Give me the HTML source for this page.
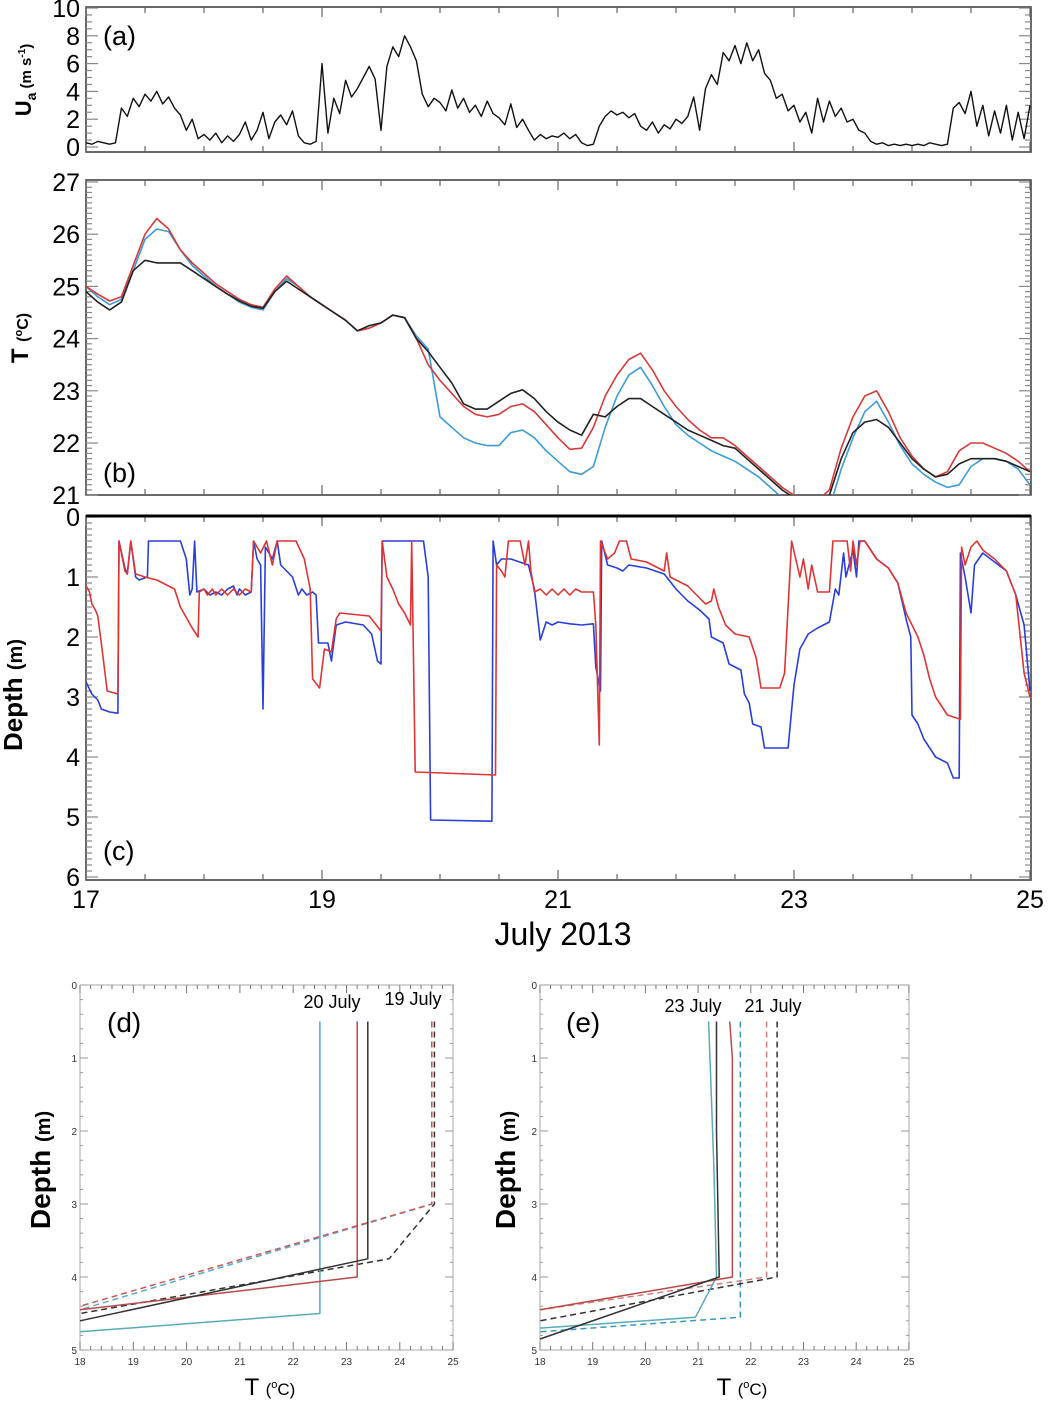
<!DOCTYPE html>
<html><head><meta charset="utf-8"><style>
html,body{margin:0;padding:0;background:#fff}
svg{display:block;font-family:"Liberation Sans",sans-serif}
.nar{font-family:"Liberation Sans Narrow","Liberation Sans",sans-serif}
</style></head><body>
<svg id="fig" width="1050" height="1401" viewBox="0 0 1050 1401">
<defs>
<clipPath id="cpA"><rect x="86" y="7" width="945" height="146"/></clipPath>
<clipPath id="cpB"><rect x="86" y="180" width="945" height="315"/></clipPath>
<clipPath id="cpC"><rect x="86" y="516" width="945" height="364"/></clipPath>
</defs>
<g id="axes"></g>
<g id="series"></g>
<g id="texts">
<text x="103" y="45" font-size="27">(a)</text>
<text x="103" y="482" font-size="27">(b)</text>
<text x="103" y="860" font-size="27">(c)</text>
<text x="107" y="1032" font-size="28">(d)</text>
<text x="566" y="1032" font-size="28">(e)</text>
<text transform="translate(31,80) rotate(-90)" text-anchor="middle" font-weight="bold" font-size="22">U<tspan font-size="14" dy="5">a</tspan><tspan font-size="15" dy="-5"> (m s</tspan><tspan font-size="10" dy="-6">-1</tspan><tspan font-size="15" dy="6">)</tspan></text>
<text transform="translate(28,338) rotate(-90)" text-anchor="middle" font-weight="bold" font-size="24">T <tspan font-size="16">(</tspan><tspan font-size="11" dy="-6">o</tspan><tspan font-size="16" dy="6">C)</tspan></text>
<text transform="translate(22,695) rotate(-90)" text-anchor="middle" font-weight="bold" font-size="26">Depth <tspan font-size="20">(m)</tspan></text>
<text x="563" y="945" text-anchor="middle" font-size="32" class="nar">July 2013</text>
<text transform="translate(50,1170) rotate(-90)" text-anchor="middle" font-weight="bold" font-size="28">Depth <tspan font-size="20">(m)</tspan></text>
<text transform="translate(515,1170) rotate(-90)" text-anchor="middle" font-weight="bold" font-size="28">Depth <tspan font-size="20">(m)</tspan></text>
<text x="270" y="1395" text-anchor="middle" font-size="24">T <tspan font-size="17">(</tspan><tspan font-size="11" dy="-7">o</tspan><tspan font-size="17" dy="7">C)</tspan></text>
<text x="742" y="1395" text-anchor="middle" font-size="24">T <tspan font-size="17">(</tspan><tspan font-size="11" dy="-7">o</tspan><tspan font-size="17" dy="7">C)</tspan></text>
<text x="332" y="1008" text-anchor="middle" font-size="18" class="nar">20 July</text>
<text x="413" y="1005" text-anchor="middle" font-size="18" class="nar">19 July</text>
<text x="693" y="1012" text-anchor="middle" font-size="18" class="nar">23 July</text>
<text x="773" y="1012" text-anchor="middle" font-size="18" class="nar">21 July</text>
</g>
</svg>
<script>
// ---------- data ----------
const windStart = 17, windStep = 0.05;
const windSpeed = [0.3,0.2,0.4,0.3,0.2,0.3,2.8,2.2,3.5,2.9,3.8,3.3,4.0,3.1,3.6,2.8,2.3,1.2,2.0,0.6,
0.9,0.5,1.0,0.3,0.8,0.4,0.9,1.8,0.5,1.2,2.5,0.6,1.8,2.3,1.6,2.6,0.8,0.3,0.2,0.4,
6.0,1.0,3.5,2.4,4.8,3.6,4.2,5.0,5.8,4.9,1.2,5.8,7.2,6.5,8.0,7.2,6.2,3.8,2.9,3.5,
3.2,2.6,4.1,2.8,3.5,2.5,3.0,2.2,3.3,2.4,2.1,1.6,3.1,1.4,2.0,1.2,0.5,0.9,0.6,0.8,
0.7,1.0,0.6,0.9,0.3,0.1,0.2,1.5,2.2,2.6,2.3,2.5,2.1,2.4,1.5,1.2,1.8,1.0,1.6,1.3,
2.0,1.7,2.2,3.6,1.2,4.2,5.2,4.5,6.8,6.2,7.3,6.0,7.5,6.2,7.0,5.3,4.8,3.5,3.8,2.6,
3.0,1.8,2.5,1.0,3.5,1.8,3.3,2.2,2.8,1.8,2.0,1.2,1.0,0.4,0.2,0.3,0.1,0.2,0.1,0.2,
0.1,0.2,0.1,0.3,0.2,0.1,0.2,2.8,3.2,2.4,4.0,1.5,3.0,0.8,2.6,1.0,3.0,0.5,2.5,0.6,3.0];

const tempStart = 17, tempStep = 0.1;
const tempRed = [25.0,24.85,24.72,24.8,25.4,26.0,26.3,26.1,25.7,25.45,
25.25,25.05,24.9,24.75,24.65,24.6,24.95,25.2,25.0,24.8,
24.65,24.5,24.35,24.15,24.2,24.3,24.45,24.4,24.0,23.5,
23.2,22.95,22.7,22.55,22.5,22.55,22.7,22.75,22.6,22.35,
22.1,21.88,21.9,22.3,22.9,23.3,23.6,23.72,23.4,23.0,
22.7,22.45,22.25,22.1,22.1,21.95,21.75,21.55,21.35,21.15,
21.0,20.95,20.9,21.1,21.9,22.5,22.9,23.0,22.6,22.1,
21.75,21.5,21.35,21.45,21.85,22.0,22.0,21.9,21.8,21.65,21.45];
const tempCyan = [25.0,24.8,24.65,24.75,25.3,25.9,26.1,26.05,25.7,25.4,
25.2,25.0,24.85,24.7,24.6,24.55,24.9,25.15,25.0,24.8,
24.65,24.5,24.35,24.15,24.2,24.3,24.45,24.4,24.05,23.8,
22.5,22.3,22.1,22.0,21.95,21.95,22.2,22.25,22.1,21.85,
21.65,21.45,21.4,21.55,22.3,22.9,23.3,23.45,23.1,22.7,
22.35,22.15,22.0,21.85,21.75,21.65,21.5,21.35,21.15,20.95,
20.8,20.65,20.55,20.75,21.5,22.1,22.6,22.8,22.4,21.95,
21.6,21.4,21.25,21.15,21.2,21.55,21.7,21.7,21.65,21.5,21.2];
const tempBlack = [24.9,24.7,24.55,24.7,25.3,25.5,25.45,25.45,25.45,25.3,
25.15,25.0,24.85,24.72,24.62,24.58,24.9,25.1,24.95,24.8,
24.65,24.5,24.35,24.15,24.25,24.3,24.45,24.4,24.0,23.75,
23.45,23.15,22.75,22.65,22.65,22.8,22.95,23.02,22.85,22.6,
22.4,22.25,22.15,22.55,22.5,22.7,22.85,22.85,22.7,22.55,
22.4,22.25,22.15,22.05,21.95,21.9,21.7,21.5,21.3,21.1,
20.95,20.85,20.85,21.0,21.7,22.2,22.4,22.45,22.3,22.0,
21.7,21.5,21.35,21.4,21.6,21.7,21.7,21.7,21.65,21.55,21.45];

const blueTime = [17.0,17.05,17.1,17.13,17.2,17.27,17.28,17.33,17.35,17.38,17.42,17.45,17.52,17.53,17.8,17.85,17.88,17.9,17.92,17.94,18.0,18.05,18.1,18.15,18.2,18.25,18.28,18.3,18.35,18.4,18.42,18.45,18.48,18.5,18.52,18.58,18.62,18.65,18.7,18.75,18.8,18.83,18.87,18.92,18.95,18.97,19.05,19.08,19.12,19.2,19.35,19.42,19.47,19.5,19.51,19.86,19.9,19.92,20.44,20.45,20.48,20.52,20.6,20.75,20.8,20.85,20.9,20.95,21.0,21.1,21.2,21.3,21.32,21.36,21.37,21.42,21.5,21.55,21.6,21.75,21.9,22.0,22.1,22.2,22.28,22.3,22.4,22.45,22.55,22.58,22.62,22.65,22.72,22.75,22.95,23.0,23.05,23.12,23.2,23.25,23.3,23.35,23.38,23.42,23.44,23.5,23.53,23.55,23.6,23.7,23.8,23.88,23.95,23.99,24.0,24.05,24.1,24.15,24.2,24.3,24.35,24.4,24.41,24.45,24.5,24.53,24.6,24.7,24.8,24.88,24.95,25.0];
const blueDepth = [2.75,2.95,3.05,3.2,3.25,3.27,0.4,0.85,0.95,0.4,1.0,1.05,1.0,0.4,0.4,0.7,1.3,1.2,0.4,1.25,1.2,1.3,1.25,1.3,1.2,1.15,1.3,1.2,1.3,1.25,0.4,0.7,0.8,3.2,0.5,0.7,0.4,0.8,0.9,1.0,1.3,1.2,1.3,1.25,1.3,2.1,2.1,2.4,1.8,1.75,1.8,1.95,2.4,2.45,0.4,0.4,1.0,5.05,5.07,0.4,0.8,0.7,0.7,0.8,1.2,2.05,1.75,1.8,1.75,1.78,1.8,1.78,2.5,2.9,0.4,0.8,0.85,0.9,0.8,0.85,0.95,1.2,1.4,1.55,1.7,2.0,2.1,2.45,2.55,2.95,3.1,3.45,3.5,3.85,3.85,2.8,2.2,1.95,1.85,1.8,1.75,1.2,1.3,0.6,1.0,0.55,1.0,0.4,0.4,0.7,0.85,1.1,1.7,2.0,3.3,3.45,3.7,3.85,4.0,4.1,4.35,4.35,0.6,1.0,1.6,0.8,0.6,0.75,0.9,1.3,1.8,2.9];
const redTime = [17.0,17.03,17.05,17.08,17.1,17.13,17.18,17.27,17.28,17.33,17.35,17.38,17.42,17.5,17.6,17.7,17.75,17.8,17.9,17.95,17.96,18.0,18.03,18.07,18.1,18.15,18.2,18.25,18.3,18.35,18.4,18.42,18.48,18.53,18.58,18.62,18.78,18.85,18.9,18.92,18.98,19.02,19.08,19.12,19.15,19.4,19.48,19.5,19.51,19.55,19.6,19.65,19.7,19.75,19.76,19.79,20.47,20.48,20.52,20.55,20.58,20.68,20.72,20.75,20.77,20.8,20.85,20.9,20.95,21.0,21.05,21.1,21.15,21.2,21.3,21.32,21.35,21.36,21.42,21.48,21.52,21.58,21.62,21.75,21.9,21.92,21.95,22.0,22.1,22.2,22.25,22.3,22.32,22.36,22.42,22.5,22.62,22.68,22.72,22.88,22.92,22.98,23.05,23.08,23.12,23.15,23.2,23.3,23.33,23.45,23.48,23.5,23.53,23.56,23.6,23.7,23.8,23.88,23.95,24.0,24.05,24.1,24.15,24.2,24.3,24.41,24.42,24.45,24.5,24.55,24.6,24.7,24.8,24.88,24.95,25.0];
const redDepth = [1.15,1.25,1.45,1.55,1.65,2.1,2.9,2.95,0.4,0.9,0.95,0.4,0.95,1.0,1.05,1.15,1.2,1.5,1.85,2.0,1.25,1.2,1.3,1.2,1.3,1.2,1.3,1.2,1.3,1.2,1.25,0.4,0.6,0.4,0.8,0.4,0.4,0.7,1.2,2.7,2.85,2.2,2.25,1.7,1.6,1.65,1.85,1.9,0.4,1.0,1.2,1.45,1.6,1.8,0.4,4.25,4.3,0.8,0.9,1.0,0.4,0.4,0.8,0.4,0.9,1.25,1.2,1.3,1.2,1.3,1.2,1.3,1.2,1.25,1.25,1.8,3.8,0.4,0.7,0.6,0.4,0.4,0.7,0.75,0.9,0.6,1.0,1.05,1.15,1.35,1.45,1.4,1.2,1.5,1.8,1.95,2.0,2.35,2.85,2.85,2.6,0.4,1.0,0.7,1.2,0.8,1.25,1.25,0.4,0.4,0.9,0.4,0.8,0.4,0.4,0.7,0.85,1.1,1.6,1.8,2.0,2.3,2.7,3.0,3.3,3.37,0.5,0.8,0.5,0.4,0.55,0.7,0.9,1.3,2.6,3.0];

const profD_cyanT = [22.5,22.5,18.0], profD_cyanZ = [0.5,4.5,4.75];
const profD_redT = [23.2,23.2,18.0], profD_redZ = [0.5,4.0,4.45];
const profD_blackT = [23.4,23.4,18.0], profD_blackZ = [0.5,3.75,4.6];
const profD_cyanDashT = [24.6,24.6,18.0], profD_cyanDashZ = [0.5,3.0,4.45];
const profD_redDashT = [24.6,24.6,18.0], profD_redDashZ = [0.5,3.0,4.4];
const profD_blackDashT = [24.65,24.65,23.8,18.0], profD_blackDashZ = [0.5,3.0,3.75,4.5];
const profE_cyanT = [21.2,21.25,21.3,21.35,20.95,18.0], profE_cyanZ = [0.5,1.5,2.5,4.0,4.55,4.7];
const profE_blackT = [21.35,21.35,21.4,18.0], profE_blackZ = [0.5,2.0,4.0,4.85];
const profE_redT = [21.6,21.65,21.65,18.0], profE_redZ = [0.5,1.0,4.0,4.45];
const profE_cyanDashT = [21.8,21.8,18.0], profE_cyanDashZ = [0.5,4.55,4.75];
const profE_redDashT = [22.3,22.3,18.0], profE_redDashZ = [0.5,4.0,4.45];
const profE_blackDashT = [22.5,22.5,18.0], profE_blackDashZ = [0.5,4.0,4.6];

const dayTicks = [17,19,21,23,25];
const windTicks = [0,2,4,6,8,10];
const tempTicks = [21,22,23,24,25,26,27];
const depthTicks = [0,1,2,3,4,5,6];
const profTempTicks = [18,19,20,21,22,23,24,25];
const profDepthTicks = [0,1,2,3,4,5];

const NS = 'http://www.w3.org/2000/svg';
const xDay = d => 86 + (d - 17) * 118;
const yWind = v => 147 - v * 13.9;
const yTemp = v => 182 + (27 - v) * 52.2;
const yDepth = v => 517 + v * 60;
const xD = t => 80 + (t - 18) * 53.3;
const xE = t => 540 + (t - 18) * 52.7;
const yProf = z => 985 + z * 73;

const axes = document.getElementById('axes');
const series = document.getElementById('series');
function mk(tag, attrs, parent){const e=document.createElementNS(NS,tag);for(const k in attrs)e.setAttribute(k,attrs[k]);parent.appendChild(e);return e;}
function poly(xs, ys, fx, fy, color, width, dash, clip, name){
  let p=''; for(let i=0;i<xs.length;i++){p+=fx(xs[i]).toFixed(1)+','+fy(ys[i]).toFixed(1)+' ';}
  const a={points:p,fill:'none',stroke:color,'stroke-width':width,'stroke-linejoin':'round'};
  if(dash)a['stroke-dasharray']=dash; if(clip)a['clip-path']='url(#'+clip+')';
  const e=mk('polyline',a,series);
  
  
  return e;
}
function regTimes(start, step, n){const t=[];for(let i=0;i<n;i++)t.push(start+i*step);return t;}

function timeFrame(y0, y1, ticks, fy, minorStep, lo, hi, name){
  const f=mk('rect',{x:86,y:y0,width:945,height:y1-y0,fill:'none',stroke:'#444','stroke-width':1.6},axes);
  
  
  for(let v=lo; v<=hi+1e-9; v+=minorStep){
    const y=fy(v); const major=ticks.some(t=>Math.abs(t-v)<1e-6);
    const L=major?12:6;
    mk('line',{x1:86,x2:86+L,y1:y,y2:y,stroke:'#888','stroke-width':1.2},axes);
    mk('line',{x1:1031-L,x2:1031,y1:y,y2:y,stroke:'#888','stroke-width':1.2},axes);
  }
  for(let d=17; d<=25; d+=0.5){
    const x=xDay(d); const L=(d%2===1)?10:6;
    mk('line',{x1:x,x2:x,y1:y1,y2:y1-L,stroke:'#666','stroke-width':1.2},axes);
    mk('line',{x1:x,x2:x,y1:y0,y2:y0+L,stroke:'#666','stroke-width':1.2},axes);
  }
  ticks.forEach(t=>{
    const e=mk('text',{x:80,y:fy(t)+9,'text-anchor':'end','font-size':25,'class':'nar'},axes);
    e.textContent=t;
    
    
  });
}
timeFrame(7,152,windTicks,yWind,0.5,0,10,'wind');
timeFrame(180,495,tempTicks,yTemp,0.1,21,27,'temp');
timeFrame(516,880,depthTicks,yDepth,0.1,0,6,'depth');
mk('line',{x1:86,x2:1031,y1:516,y2:516,stroke:'#000','stroke-width':3},axes);
dayTicks.forEach(d=>{
  const e=mk('text',{x:xDay(d),y:908,'text-anchor':'middle','font-size':25,'class':'nar'},axes);
  e.textContent=d;
  
  
});

function profFrame(x0, x1, fx, name){
  const f=mk('rect',{x:x0,y:985,width:x1-x0,height:365,fill:'none',stroke:'#aaa','stroke-width':1},axes);
  
  
  for(let t=18; t<=25.001; t+=0.2){
    const x=fx(t); const major=Math.abs(t-Math.round(t))<1e-6; const L=major?8:4;
    mk('line',{x1:x,x2:x,y1:1350,y2:1350-L,stroke:'#777','stroke-width':1},axes);
    mk('line',{x1:x,x2:x,y1:985,y2:985+L,stroke:'#777','stroke-width':1},axes);
  }
  for(let z=0; z<=5.001; z+=0.2){
    const y=yProf(z); const major=Math.abs(z-Math.round(z))<1e-6; const L=major?8:3;
    mk('line',{x1:x0,x2:x0+L,y1:y,y2:y,stroke:'#999','stroke-width':1},axes);
    mk('line',{x1:x1-L,x2:x1,y1:y,y2:y,stroke:'#999','stroke-width':1},axes);
  }
  profTempTicks.forEach(t=>{
    const e=mk('text',{x:fx(t),y:1365,'text-anchor':'middle','font-size':10,fill:'#333'},axes);
    e.textContent=t;
    
    
  });
  profDepthTicks.forEach(z=>{
    const e=mk('text',{x:x0-3,y:yProf(z)+4,'text-anchor':'end','font-size':10,fill:'#333'},axes);
    e.textContent=z;
    
    
  });
}
profFrame(80,453,xD,'panel-d');
profFrame(540,909,xE,'panel-e');

poly(regTimes(windStart,windStep,windSpeed.length), windSpeed, xDay, yWind, '#111', 1.4, null, 'cpA', 'wind-speed-line');
const tt = regTimes(tempStart,tempStep,tempRed.length);
poly(tt, tempCyan, xDay, yTemp, '#3d9bd6', 1.6, null, 'cpB', 'temp-cyan-line');
poly(tt, tempRed, xDay, yTemp, '#d63a3a', 1.6, null, 'cpB', 'temp-red-line');
poly(tt, tempBlack, xDay, yTemp, '#222', 1.6, null, 'cpB', 'temp-black-line');
poly(blueTime, blueDepth, xDay, yDepth, '#2a3fd8', 1.6, null, 'cpC', 'depth-blue-line');
poly(redTime, redDepth, xDay, yDepth, '#dd3535', 1.6, null, 'cpC', 'depth-red-line');

poly(profD_cyanDashT, profD_cyanDashZ, xD, yProf, '#5aaad0', 1.5, '6,4', null, 'profile-d-cyan-dashed');
poly(profD_redDashT, profD_redDashZ, xD, yProf, '#c85a5a', 1.5, '6,4', null, 'profile-d-red-dashed');
poly(profD_blackDashT, profD_blackDashZ, xD, yProf, '#333', 1.5, '6,4', null, 'profile-d-black-dashed');
poly(profD_cyanT, profD_cyanZ, xD, yProf, '#5aaab8', 1.5, null, null, 'profile-d-cyan');
poly(profD_redT, profD_redZ, xD, yProf, '#b84a4a', 1.5, null, null, 'profile-d-red');
poly(profD_blackT, profD_blackZ, xD, yProf, '#333', 1.5, null, null, 'profile-d-black');

poly(profE_cyanDashT, profE_cyanDashZ, xE, yProf, '#3a9ac0', 1.5, '6,4', null, 'profile-e-cyan-dashed');
poly(profE_redDashT, profE_redDashZ, xE, yProf, '#d08080', 1.5, '6,4', null, 'profile-e-red-dashed');
poly(profE_blackDashT, profE_blackDashZ, xE, yProf, '#333', 1.5, '6,4', null, 'profile-e-black-dashed');
poly(profE_cyanT, profE_cyanZ, xE, yProf, '#5aaab8', 1.5, null, null, 'profile-e-cyan');
poly(profE_redT, profE_redZ, xE, yProf, '#b84a4a', 1.5, null, null, 'profile-e-red');
poly(profE_blackT, profE_blackZ, xE, yProf, '#333', 1.5, null, null, 'profile-e-black');
</script>
</body></html>
